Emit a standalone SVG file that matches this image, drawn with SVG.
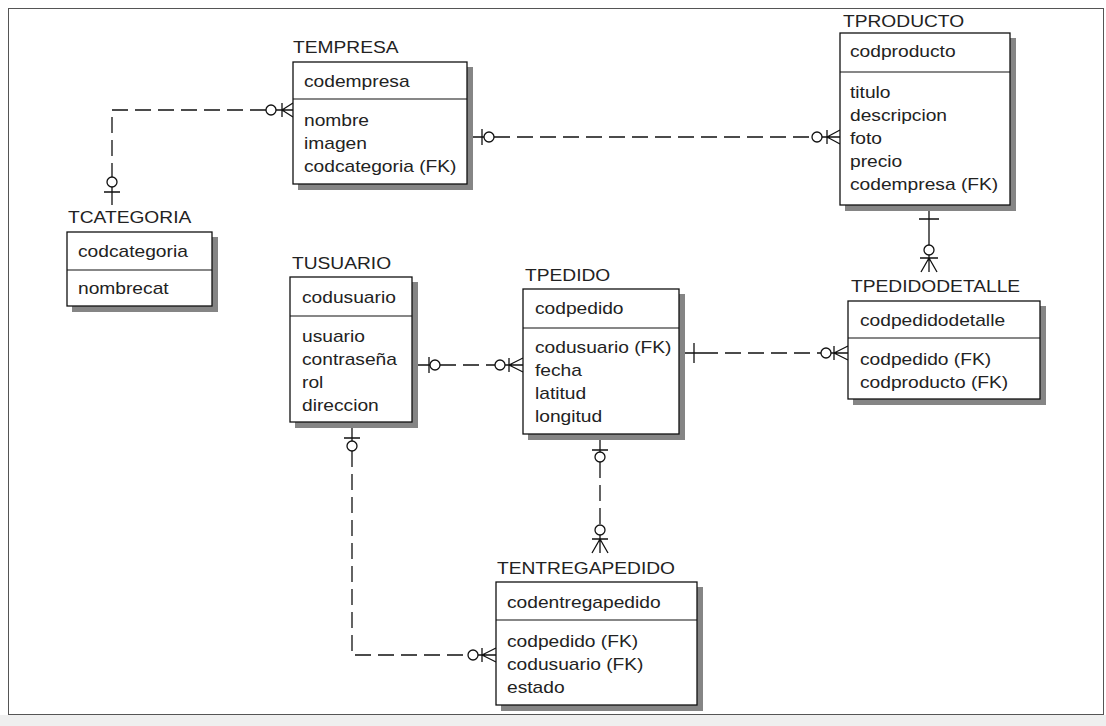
<svg xmlns="http://www.w3.org/2000/svg" width="1106" height="726" viewBox="0 0 1106 726">
<style>
.t{font-family:"Liberation Sans",Arial,sans-serif;font-size:16px;fill:#222}
.box{fill:#fff;stroke:#111;stroke-width:1.3}
.sh{fill:#858585}
.div{stroke:#111;stroke-width:1.2}
.c{fill:none;stroke:#111;stroke-width:1.3}
.d{fill:none;stroke:#111;stroke-width:1.3;stroke-dasharray:16 7}
.o{fill:#fff;stroke:#111;stroke-width:1.3}
</style>
<rect x="0" y="0" width="1106" height="726" fill="#fff"/>
<rect x="0" y="715" width="1106" height="11" fill="#efefef"/>
<rect x="8.5" y="8.5" width="1095" height="706" fill="#fff" stroke="#555" stroke-width="1"/>

<g id="connectors">
  <!-- TCATEGORIA - TEMPRESA -->
  <path class="d" d="M266,110 H112 V177"/>
  <circle class="o" cx="112" cy="182" r="5"/>
  <path class="c" d="M104,192 H120 M112,187 V205"/>
  <path class="c" d="M276,110 H293 M282,103 V117 M282,110 L293,103 M282,110 L293,117"/>
  <circle class="o" cx="271" cy="110" r="5"/>

  <!-- TEMPRESA - TPRODUCTO -->
  <path class="c" d="M473,137 H484 M482,129 V145"/>
  <circle class="o" cx="489" cy="137" r="5"/>
  <path class="d" d="M494,137 H812"/>
  <circle class="o" cx="817" cy="137" r="5"/>
  <path class="c" d="M822,137 H840 M827,130 V144 M827,137 L840,130 M827,137 L840,144"/>

  <!-- TPRODUCTO - TPEDIDODETALLE -->
  <path class="c" d="M929,210 V245 M919,219 H939"/>
  <circle class="o" cx="929" cy="250" r="5"/>
  <path class="c" d="M929,255 V272 M920,258 H938 M929,258 L921,272 M929,258 L937,272"/>

  <!-- TUSUARIO - TPEDIDO -->
  <path class="c" d="M418,365 H430 M429,357 V373"/>
  <circle class="o" cx="435" cy="365" r="5"/>
  <path class="d" d="M440,365 H495"/>
  <circle class="o" cx="500" cy="365" r="5"/>
  <path class="c" d="M505,365 H523 M509,358 V372 M509,365 L523,358 M509,365 L523,372"/>

  <!-- TPEDIDO - TPEDIDODETALLE -->
  <path class="c" d="M685,353 H702 M694,343 V363"/>
  <path class="d" d="M702,353 H821"/>
  <circle class="o" cx="826" cy="353" r="5"/>
  <path class="c" d="M831,353 H848 M834,346 V360 M834,353 L848,346 M834,353 L848,360"/>

  <!-- TPEDIDO - TENTREGAPEDIDO -->
  <path class="c" d="M600,440 V452 M592,450 H608"/>
  <circle class="o" cx="600" cy="457" r="5"/>
  <path class="d" d="M600,462 V525"/>
  <circle class="o" cx="600" cy="530" r="5"/>
  <path class="c" d="M600,535 V553 M592,539 H608 M600,539 L592,553 M600,539 L608,553"/>

  <!-- TUSUARIO - TENTREGAPEDIDO -->
  <path class="c" d="M352,428 V441 M344,438 H360"/>
  <circle class="o" cx="352" cy="446" r="5"/>
  <path class="d" d="M352,451 V655 H468"/>
  <circle class="o" cx="473" cy="655" r="5"/>
  <path class="c" d="M478,655 H496 M482,648 V662 M482,655 L496,648 M482,655 L496,662"/>
</g>

<g id="TEMPRESA">
  <rect class="sh" x="298" y="67" width="175" height="123"/>
  <rect class="box" x="293" y="62" width="174" height="122"/>
  <line class="div" x1="293" y1="99" x2="467" y2="99"/>
  <text class="t" transform="translate(293,53) scale(1.2,1)">TEMPRESA</text>
  <text class="t" transform="translate(304,87) scale(1.2,1)">codempresa</text>
  <text class="t" transform="translate(304,126) scale(1.2,1)">nombre</text>
  <text class="t" transform="translate(304,149) scale(1.2,1)">imagen</text>
  <text class="t" transform="translate(304,172) scale(1.2,1)">codcategoria (FK)</text>
</g>

<g id="TPRODUCTO">
  <rect class="sh" x="845" y="38" width="171" height="173"/>
  <rect class="box" x="840" y="33" width="170" height="172"/>
  <line class="div" x1="840" y1="72" x2="1010" y2="72"/>
  <text class="t" transform="translate(843,27) scale(1.2,1)">TPRODUCTO</text>
  <text class="t" transform="translate(850,57) scale(1.2,1)">codproducto</text>
  <text class="t" transform="translate(850,98) scale(1.2,1)">titulo</text>
  <text class="t" transform="translate(850,121) scale(1.2,1)">descripcion</text>
  <text class="t" transform="translate(850,144) scale(1.2,1)">foto</text>
  <text class="t" transform="translate(850,167) scale(1.2,1)">precio</text>
  <text class="t" transform="translate(850,190) scale(1.2,1)">codempresa (FK)</text>
</g>

<g id="TCATEGORIA">
  <rect class="sh" x="72" y="237" width="146" height="75"/>
  <rect class="box" x="67" y="232" width="145" height="74"/>
  <line class="div" x1="67" y1="270" x2="212" y2="270"/>
  <text class="t" transform="translate(68,223) scale(1.2,1)">TCATEGORIA</text>
  <text class="t" transform="translate(78,257) scale(1.2,1)">codcategoria</text>
  <text class="t" transform="translate(78,294) scale(1.2,1)">nombrecat</text>
</g>

<g id="TUSUARIO">
  <rect class="sh" x="295" y="282" width="123" height="146"/>
  <rect class="box" x="290" y="277" width="122" height="145"/>
  <line class="div" x1="290" y1="316" x2="412" y2="316"/>
  <text class="t" transform="translate(292,269) scale(1.2,1)">TUSUARIO</text>
  <text class="t" transform="translate(302,303) scale(1.2,1)">codusuario</text>
  <text class="t" transform="translate(302,342) scale(1.2,1)">usuario</text>
  <text class="t" transform="translate(302,365) scale(1.2,1)">contraseña</text>
  <text class="t" transform="translate(302,388) scale(1.2,1)">rol</text>
  <text class="t" transform="translate(302,411) scale(1.2,1)">direccion</text>
</g>

<g id="TPEDIDO">
  <rect class="sh" x="528" y="294" width="157" height="146"/>
  <rect class="box" x="523" y="289" width="156" height="145"/>
  <line class="div" x1="523" y1="328" x2="679" y2="328"/>
  <text class="t" transform="translate(525,281) scale(1.2,1)">TPEDIDO</text>
  <text class="t" transform="translate(535,314) scale(1.2,1)">codpedido</text>
  <text class="t" transform="translate(535,353) scale(1.2,1)">codusuario (FK)</text>
  <text class="t" transform="translate(535,376) scale(1.2,1)">fecha</text>
  <text class="t" transform="translate(535,399) scale(1.2,1)">latitud</text>
  <text class="t" transform="translate(535,422) scale(1.2,1)">longitud</text>
</g>

<g id="TPEDIDODETALLE">
  <rect class="sh" x="853" y="306" width="193" height="99"/>
  <rect class="box" x="848" y="301" width="192" height="98"/>
  <line class="div" x1="848" y1="338" x2="1040" y2="338"/>
  <text class="t" transform="translate(851,292) scale(1.2,1)">TPEDIDODETALLE</text>
  <text class="t" transform="translate(860,326) scale(1.2,1)">codpedidodetalle</text>
  <text class="t" transform="translate(860,365) scale(1.2,1)">codpedido (FK)</text>
  <text class="t" transform="translate(860,388) scale(1.2,1)">codproducto (FK)</text>
</g>

<g id="TENTREGAPEDIDO">
  <rect class="sh" x="501" y="587" width="202" height="124"/>
  <rect class="box" x="496" y="582" width="201" height="123"/>
  <line class="div" x1="496" y1="620" x2="697" y2="620"/>
  <text class="t" transform="translate(497,574) scale(1.2,1)">TENTREGAPEDIDO</text>
  <text class="t" transform="translate(507,608) scale(1.2,1)">codentregapedido</text>
  <text class="t" transform="translate(507,647) scale(1.2,1)">codpedido (FK)</text>
  <text class="t" transform="translate(507,670) scale(1.2,1)">codusuario (FK)</text>
  <text class="t" transform="translate(507,693) scale(1.2,1)">estado</text>
</g>
</svg>
